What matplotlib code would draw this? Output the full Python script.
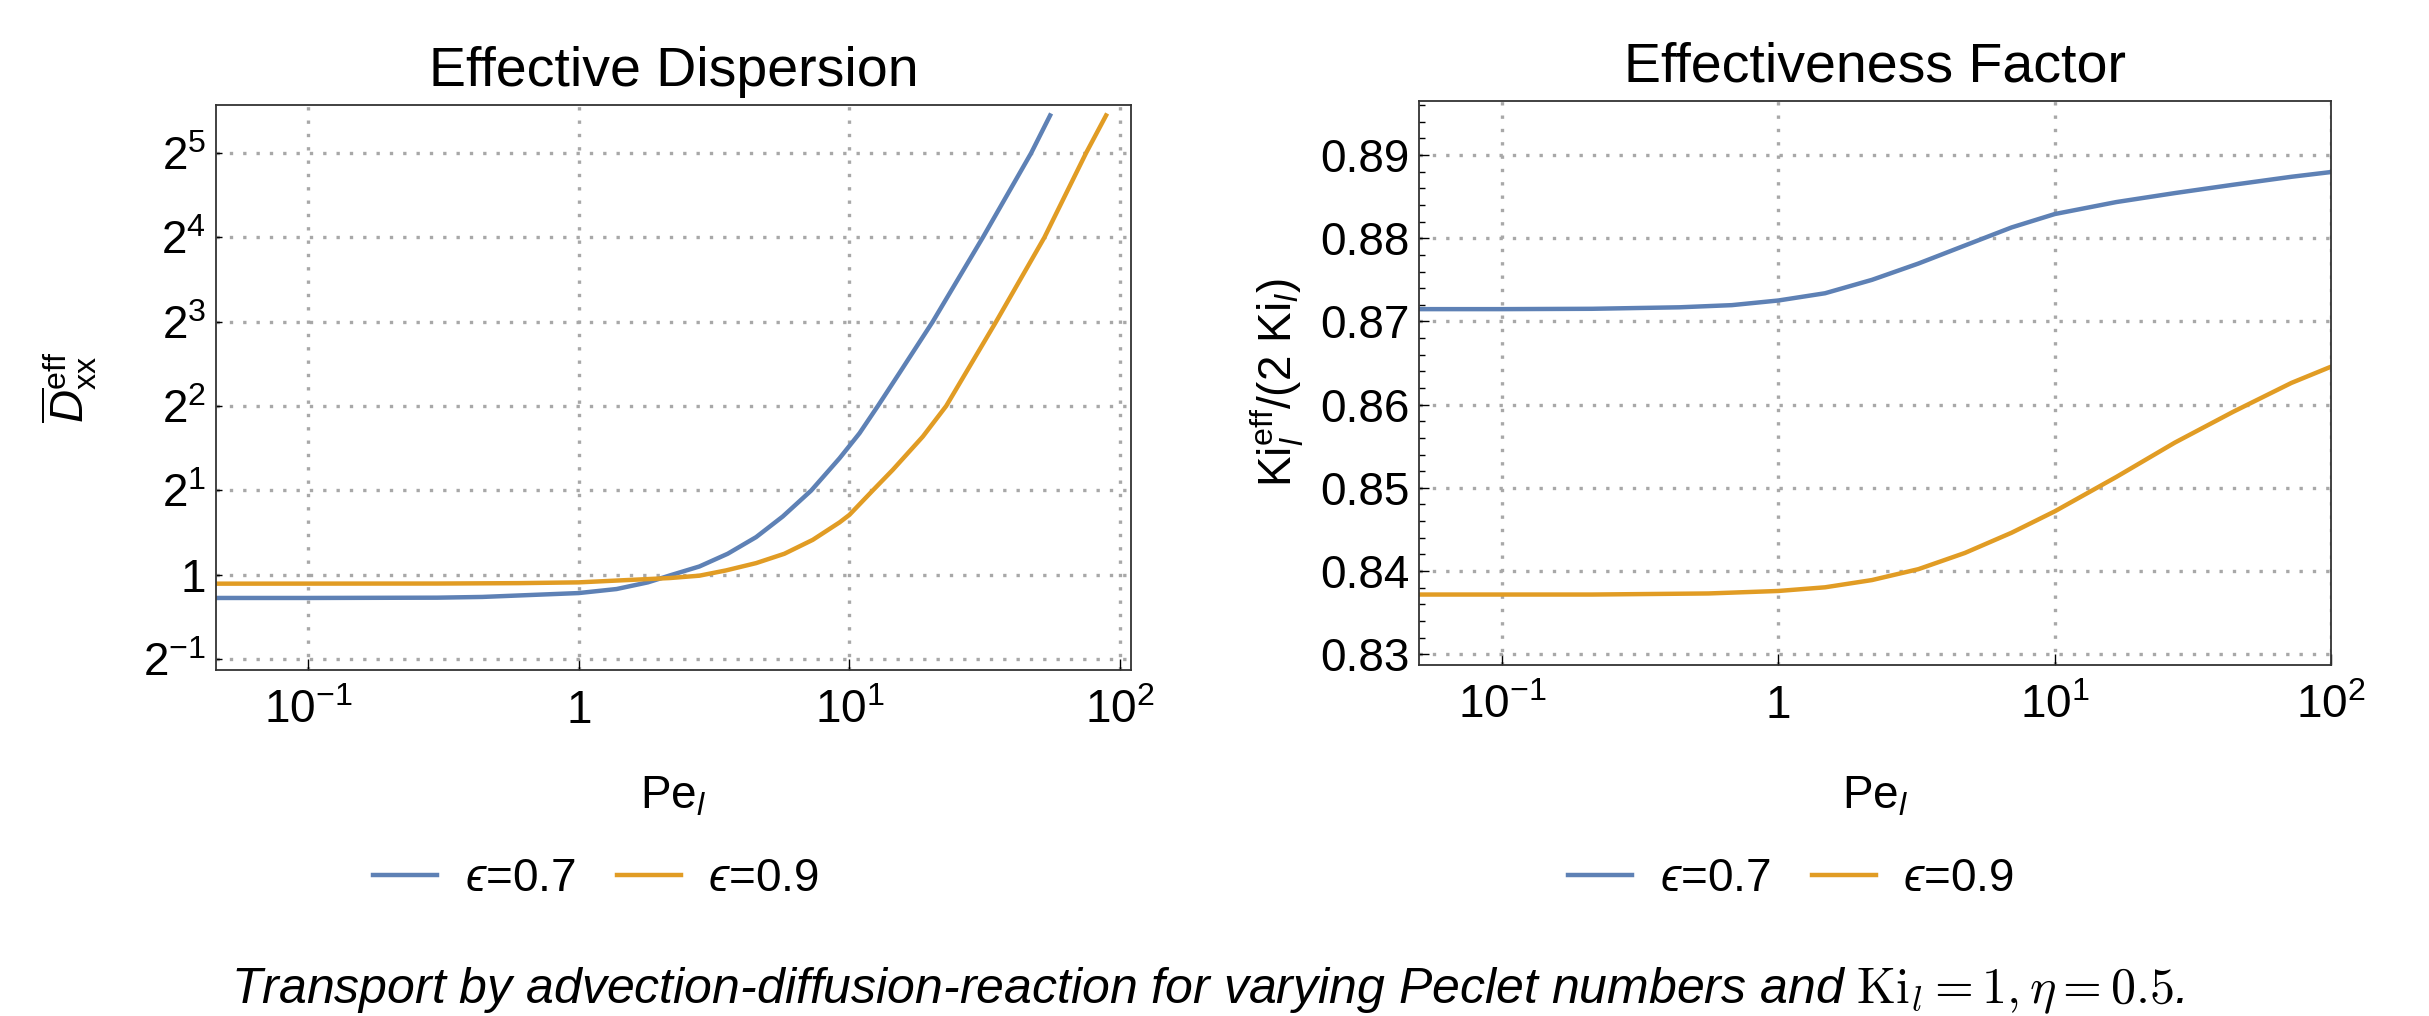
import numpy as np
import matplotlib
matplotlib.use('Agg')
import matplotlib.pyplot as plt
from matplotlib.ticker import FixedLocator, NullLocator, MultipleLocator

plt.rcParams['font.family'] = ['Liberation Sans', 'DejaVu Sans']
plt.rcParams['mathtext.fontset'] = 'custom'
plt.rcParams['mathtext.rm'] = 'Liberation Sans'
plt.rcParams['mathtext.it'] = 'Liberation Sans:italic'
plt.rcParams['mathtext.bf'] = 'Liberation Sans:bold'

# effective dispersion
pe_d07 = [0.045, 0.1, 0.3, 0.44, 1.0, 1.38, 1.8, 2.17, 2.79, 3.55, 4.52, 5.67, 7.22, 9.19,
          10.89, 12.73, 15.3, 20.3, 31.1, 46.9, 55.1]
d_07 = [0.826, 0.826, 0.828, 0.833, 0.860, 0.889, 0.939, 0.994, 1.070, 1.188, 1.362, 1.614,
        1.997, 2.604, 3.198, 4.0, 5.25, 8.0, 16.0, 32.0, 43.6]
pe_d09 = [0.045, 0.3, 0.6, 1.0, 2.17, 2.79, 3.5, 4.52, 5.75, 7.32, 9.19, 10.0, 12.2, 14.45,
          18.66, 22.76, 34.8, 52.5, 74.8, 88.7]
d_09 = [0.929, 0.930, 0.933, 0.939, 0.973, 0.992, 1.036, 1.100, 1.188, 1.332, 1.537, 1.636,
        2.0, 2.367, 3.112, 4.0, 8.0, 16.0, 32.0, 43.6]

# effectiveness factor, right panel
pe_k07 = [0.0492, 0.1, 0.211, 0.438, 0.678, 1.0, 1.475, 2.18, 3.21, 4.73, 6.98, 10.0, 16.7,
          27.2, 44.2, 71.9, 100.0]
k_07 = [0.87148, 0.87148, 0.87152, 0.87170, 0.87196, 0.87252, 0.87339, 0.87500, 0.87696,
        0.87913, 0.88130, 0.88291, 0.88435, 0.88543, 0.88643, 0.88739, 0.88796]
pe_k09 = [0.0492, 0.211, 0.558, 1.0, 1.475, 2.18, 3.21, 4.73, 6.98, 10.0, 16.7, 27.2, 44.2,
          71.9, 100.0]
k_09 = [0.83717, 0.83717, 0.83730, 0.83760, 0.83804, 0.83891, 0.84022, 0.84217, 0.84460,
        0.84717, 0.85130, 0.85543, 0.85913, 0.86261, 0.86456]

labels = ['$\u03f5$=0.7', '$\u03f5$=0.9']
blue = '#5E81B5'
orange = '#E19C24'

log2_ticks = [0.5, 1, 2, 4, 8, 16, 32]
log2_labels = [r'$2^{-1}$', '1', r'$2^{1}$', r'$2^{2}$', r'$2^{3}$', r'$2^{4}$', r'$2^{5}$']
x_ticks = [0.1, 1, 10, 100]
x_labels = [r'$10^{-1}$', '1', r'$10^{1}$', r'$10^{2}$']
k_ticks = [0.83, 0.84, 0.85, 0.86, 0.87, 0.88, 0.89]

W, H = 2429, 1016
fig = plt.figure(figsize=(W / 100, H / 100), dpi=100)
ax1 = fig.add_axes([216 / W, 1 - 670 / H, (1131 - 216) / W, (670 - 105) / H])
ax2 = fig.add_axes([1419 / W, 1 - 665 / H, (2331 - 1419) / W, (665 - 101) / H])

fs = 33
grid_kw = dict(color='#a8a8a8', linestyle=(0, (1, 3)), linewidth=2.4)

for ax, lab_y in ((ax1, (670 - 808) / 565), (ax2, (665 - 808) / 564)):
    ax.set_xscale('log')
    for s in ax.spines.values():
        s.set_color('#333333')
        s.set_linewidth(1.3)
    ax.grid(True, which='major', **grid_kw)
    ax.set_axisbelow(True)
    ax.set_xticks(x_ticks)
    ax.set_xticklabels(x_labels)
    ax.xaxis.set_minor_locator(NullLocator())
    ax.tick_params(axis='x', which='major', direction='in', length=8, width=1, pad=14, labelsize=fs)
    ax.tick_params(axis='y', which='major', direction='in', length=7, width=1, pad=7, labelsize=fs)
    ax.set_xlabel(r'Pe$_{l}$', fontsize=fs, va='baseline')
    ax.xaxis.set_label_coords(0.5, lab_y)

# left panel
ax1.plot(pe_d07, d_07, color=blue, lw=3.2, label=labels[0])
ax1.plot(pe_d09, d_09, color=orange, lw=3.2, label=labels[1])
ax1.set_yscale('log', base=2)
ax1.set_xlim(10 ** -1.34, 10 ** 2.04)
ax1.set_ylim(2 ** -1.13, 2 ** 5.57)
ax1.yaxis.set_major_locator(FixedLocator(log2_ticks))
ax1.set_yticklabels(log2_labels)
ax1.yaxis.set_minor_locator(NullLocator())
ax1.tick_params(axis='y', which='major', length=4)
ax1.set_title('Effective Dispersion', fontsize=40, pad=14)
ax1.set_ylabel(r'$\overline{D}_{\mathrm{xx}}^{\mathrm{eff}}$', fontsize=fs, labelpad=32)

# right panel
ax2.plot(pe_k07, k_07, color=blue, lw=3.2, label=labels[0])
ax2.plot(pe_k09, k_09, color=orange, lw=3.2, label=labels[1])
ax2.set_xlim(0.05, 100)
ax2.set_ylim(0.8287, 0.8965)
ax2.set_yticks(k_ticks)
ax2.set_yticklabels(['%.2f' % v for v in k_ticks])
ax2.yaxis.set_minor_locator(MultipleLocator(0.002))
ax2.tick_params(axis='y', which='minor', direction='in', length=4.5, width=1)
ax2.set_title('Effectiveness Factor', fontsize=40, pad=14)
ax2.set_ylabel(r'$\mathrm{Ki}_{l}^{\mathrm{eff}}/(2\ \mathrm{Ki}_{l})$', fontsize=fs, labelpad=10)

leg_kw = dict(loc='center', ncol=2, frameon=False, fontsize=fs, handlelength=1.4,
              handletextpad=0.6, columnspacing=0.9)
ax1.legend(bbox_to_anchor=(596 / W, 1 - 879 / H), bbox_transform=fig.transFigure, **leg_kw)
ax2.legend(bbox_to_anchor=(1791 / W, 1 - 879 / H), bbox_transform=fig.transFigure, **leg_kw)

fig.text(1208 / W, 1 - 1003 / H,
         r'Transport by advection-diffusion-reaction for varying Peclet numbers and $\mathrm{Ki}_l = 1, \eta = 0.5$.',
         ha='center', va='baseline', fontsize=36, style='italic', math_fontfamily='cm')

fig.savefig('out.png', dpi=100)
